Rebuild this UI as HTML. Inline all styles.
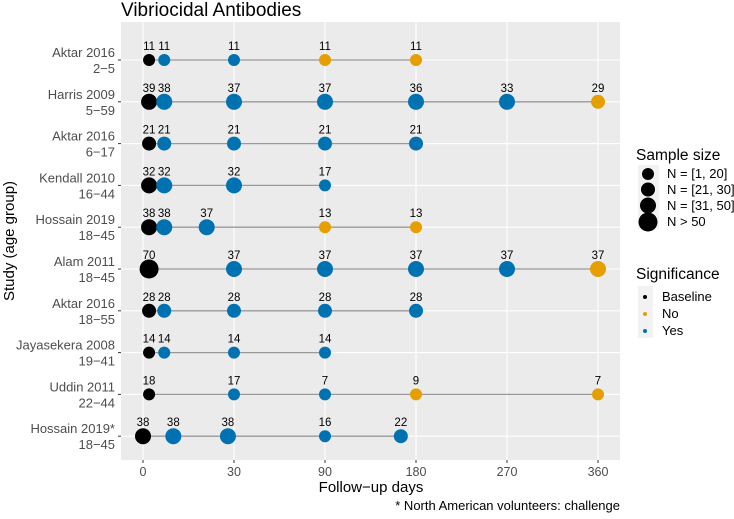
<!DOCTYPE html>
<html><head><meta charset="utf-8"><style>
body{margin:0;background:#fff;}
svg text{font-family:"Liberation Sans",Arial,sans-serif;}
</style></head><body>
<svg width="734" height="514" viewBox="0 0 734 514" xmlns="http://www.w3.org/2000/svg">
<text x="121" y="16" font-size="19" fill="#000">Vibriocidal Antibodies</text>
<rect x="121" y="22" width="499" height="438" fill="#ebebeb"/>
<g id="grid"></g>
<g id="lines"></g>
<g id="points"></g>
<g id="labels"></g>
<g id="yaxis"></g>
<g id="xaxis"></g>
<text transform="translate(14,241) rotate(-90)" text-anchor="middle" font-size="15">Study (age group)</text>
<text x="371" y="492" text-anchor="middle" font-size="15">Follow−up days</text>
<text x="620" y="510" text-anchor="end" font-size="13">* North American volunteers: challenge</text>
<g>
<text x="636" y="160" font-size="15.5">Sample size</text>
<rect x="638" y="165" width="21" height="64" fill="#f2f2f2"/>
<circle cx="648" cy="174" r="6" fill="#000"/><text x="667" y="178" font-size="13">N = [1, 20]</text>
<circle cx="648" cy="189.5" r="7" fill="#000"/><text x="667" y="194" font-size="13">N = [21, 30]</text>
<circle cx="648" cy="205.5" r="8" fill="#000"/><text x="667" y="210" font-size="13">N = [31, 50]</text>
<circle cx="648" cy="222" r="9.5" fill="#000"/><text x="667" y="226" font-size="13">N &gt; 50</text>
</g>
<g>
<text x="636" y="279" font-size="15.5">Significance</text>
<rect x="638" y="286" width="15" height="52" fill="#f2f2f2"/>
<circle cx="645" cy="297" r="2" fill="#000"/><text x="662" y="301" font-size="13">Baseline</text>
<circle cx="645" cy="314" r="2" fill="#E69F00"/><text x="662" y="318" font-size="13">No</text>
<circle cx="645" cy="331" r="2" fill="#0072B2"/><text x="662" y="335" font-size="13">Yes</text>
</g>
</svg>
<script>
const studies = ["Aktar 2016|2−5","Harris 2009|5−59","Aktar 2016|6−17","Kendall 2010|16−44","Hossain 2019|18−45","Alam 2011|18−45","Aktar 2016|18−55","Jayasekera 2008|19−41","Uddin 2011|22−44","Hossain 2019*|18−45"];
const days = [[2,7,30,90,180],[2,7,30,90,180,270,360],[2,7,30,90,180],[2,7,30,90],[2,7,21,90,180],[2,30,90,180,270,360],[2,7,30,90,180],[2,7,30,90],[2,30,90,180,360],[0,10,28,90,165]];
const counts = [[11,11,11,11,11],[39,38,37,37,36,33,29],[21,21,21,21,21],[32,32,32,17],[38,38,37,13,13],[70,37,37,37,37,37],[28,28,28,28,28],[14,14,14,14],[18,17,7,9,7],[38,38,38,16,22]];
const signif = [["B","Y","Y","N","N"],["B","Y","Y","Y","Y","Y","N"],["B","Y","Y","Y","Y"],["B","Y","Y","Y"],["B","Y","Y","N","N"],["B","Y","Y","Y","Y","N"],["B","Y","Y","Y","Y"],["B","Y","Y","Y"],["B","Y","Y","N","N"],["B","Y","Y","Y","Y"]];
const xTicks = [0,30,90,180,270,360];

const NS="http://www.w3.org/2000/svg";
const tickPx=[143,234,325,416,507,598];
function xScale(d){
  for(let i=0;i<xTicks.length-1;i++){
    if(d<=xTicks[i+1]) return tickPx[i]+(d-xTicks[i])/(xTicks[i+1]-xTicks[i])*(tickPx[i+1]-tickPx[i]);
  }
  return tickPx[tickPx.length-1];
}
function yScale(i){return 60+i*41.8;}
function rad(n){return n<=20?6:n<=30?7:n<=50?8:9.5;}
const col={B:"#000",N:"#E69F00",Y:"#0072B2"};
function mk(tag,attrs,parent,txt){const e=document.createElementNS(NS,tag);for(const k in attrs)e.setAttribute(k,attrs[k]);if(txt!==undefined)e.textContent=txt;document.getElementById(parent).appendChild(e);return e;}
xTicks.forEach((t,i)=>{
  const g=mk("line",{x1:xScale(t),x2:xScale(t),y1:22,y2:460,stroke:"#fff","stroke-width":1.1},"grid");
  
  
  mk("line",{x1:xScale(t),x2:xScale(t),y1:460,y2:463,stroke:"#333"},"xaxis");
  const tl=mk("text",{x:xScale(t),y:476,"text-anchor":"middle","font-size":12.5,fill:"#4d4d4d"},"xaxis",String(t));
  
  
});
studies.forEach((s,i)=>{
  const y=yScale(i);
  const g=mk("line",{x1:121,x2:620,y1:y,y2:y,stroke:"#fff","stroke-width":1.1},"grid");
  
  
  mk("line",{x1:118,x2:121,y1:y,y2:y,stroke:"#333"},"yaxis");
  const p=s.split("|");
  const t1=mk("text",{x:115,y:y-3,"text-anchor":"end","font-size":13,fill:"#4d4d4d"},"yaxis",p[0]);
  
  
  const t2=mk("text",{x:115,y:y+13,"text-anchor":"end","font-size":13,fill:"#4d4d4d"},"yaxis",p[1]);
  
  
  const d=days[i];
  const ln=mk("line",{x1:xScale(d[0]),x2:xScale(d[d.length-1]),y1:y,y2:y,stroke:"#999","stroke-width":1.3},"lines");
  
  
  d.forEach((dd,j)=>{
    const c=mk("circle",{cx:xScale(dd),cy:y,r:rad(counts[i][j]),fill:col[signif[i][j]]},"points");
    
    
    const l=mk("text",{x:xScale(dd),y:y-10,"text-anchor":"middle","font-size":11.5,fill:"#000"},"labels",String(counts[i][j]));
    
    
  });
});
</script>
</body></html>
